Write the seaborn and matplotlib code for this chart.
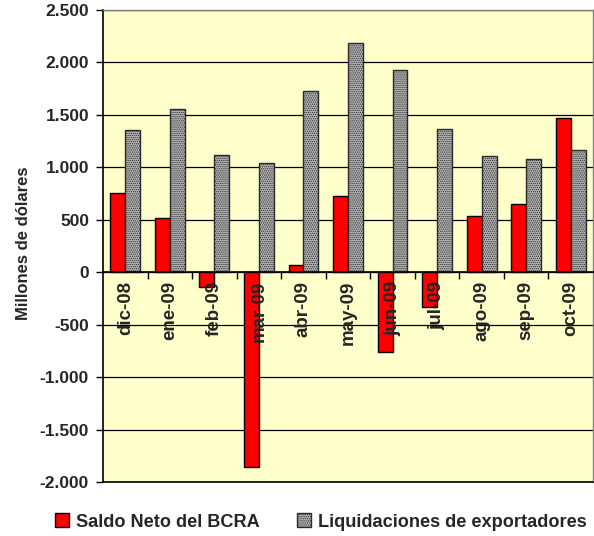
import matplotlib
matplotlib.use("Agg")
import matplotlib.pyplot as plt
import seaborn as sns
import pandas as pd
import numpy as np

meses = ["dic-08", "ene-09", "feb-09", "mar-09", "abr-09", "may-09",
         "jun-09", "jul-09", "ago-09", "sep-09", "oct-09"]
saldo_bcra = [760, 520, -140, -1860, 65, 730, -760, -330, 540, 650, 1470]
liquidaciones = [1360, 1560, 1120, 1040, 1730, 2190, 1930, 1370, 1110, 1080, 1170]
series = ["Saldo Neto del BCRA", "Liquidaciones de exportadores"]
yticks = [-2000, -1500, -1000, -500, 0, 500, 1000, 1500, 2000, 2500]
ytick_labels = ["-2.000", "-1.500", "-1.000", "-500", "0", "500", "1.000", "1.500", "2.000", "2.500"]

df = pd.DataFrame({
    "mes": meses * 2,
    "valor": saldo_bcra + liquidaciones,
    "serie": [series[0]] * len(meses) + [series[1]] * len(meses),
})

sns.set_style("white")
plt.rcParams["font.family"] = ["Liberation Sans", "DejaVu Sans"]
plt.rcParams["font.weight"] = "bold"
plt.rcParams["hatch.linewidth"] = 0.6

fig = plt.figure(figsize=(5.94, 5.36), dpi=100)
ax = fig.add_axes([103 / 594, 1 - 482 / 536, 490 / 594, 472 / 536])
ax.set_facecolor("#FFFFCC")

sns.barplot(data=df, x="mes", y="valor", hue="serie", order=meses, hue_order=series,
            palette=["#FF0000", "#B4B4B4"], width=0.67, edgecolor="black",
            linewidth=1.0, saturation=1, ax=ax, legend=False, zorder=3)

for bar in ax.containers[1]:
    bar.set_hatch("........")
    bar.set_edgecolor("#2a2a2a")

ax.set_ylim(-2000, 2500)
ax.set_xlim(-0.5, len(meses) - 0.5)

# spines first (repositioning resets tick styling)
ax.spines["bottom"].set_position(("data", 0))
ax.spines["bottom"].set_color("black")
ax.spines["bottom"].set_linewidth(1.2)
ax.spines["bottom"].set_zorder(4)
ax.spines["left"].set_color("black")
ax.spines["left"].set_linewidth(1.2)
ax.spines["top"].set_color("#808080")
ax.spines["right"].set_color("#808080")
ax.spines["top"].set_linewidth(1)
ax.spines["right"].set_linewidth(1)
# outer bottom border of plot area
ax.plot([0, 1], [0, 0], transform=ax.transAxes, color="black", lw=1.2, clip_on=False, zorder=5)

ax.set_yticks(yticks)
ax.set_yticklabels(ytick_labels, fontsize=12.5, fontweight="bold")
ax.yaxis.grid(True, color="black", linewidth=0.9, zorder=1)
ax.set_axisbelow(True)
ax.tick_params(axis="y", direction="out", length=5, width=1, color="black", left=True, pad=5)

ax.set_xticks(range(len(meses)))
ax.set_xticklabels(meses, rotation=90, fontsize=13.5, fontweight="bold", va="top", ha="center")
ax.tick_params(axis="x", which="major", length=0, pad=6, bottom=True)
ax.set_xticks(np.arange(0.5, len(meses) - 0.5, 1), minor=True)
ax.tick_params(axis="x", which="minor", direction="out", length=5, width=1, color="black", bottom=True)
ax.xaxis.set_zorder(10)

ax.set_xlabel("")
ax.set_ylabel("Millones de dólares", fontsize=12, fontweight="bold")
ax.yaxis.set_label_coords(-(103 - 31) / 490, 0.5 + 2.5 / 472)

handles = [ax.containers[0][0], ax.containers[1][0]]
leg = fig.legend(handles, series, loc="center left", bbox_to_anchor=(55 / 594, 1 - 522 / 536),
                 ncol=2, frameon=False, handlelength=0.75, handleheight=0.75,
                 columnspacing=2.05, handletextpad=0.4, borderpad=0, borderaxespad=0,
                 prop={"weight": "bold", "size": 13.1})

fig.savefig("out.png", dpi=100, facecolor="white")
